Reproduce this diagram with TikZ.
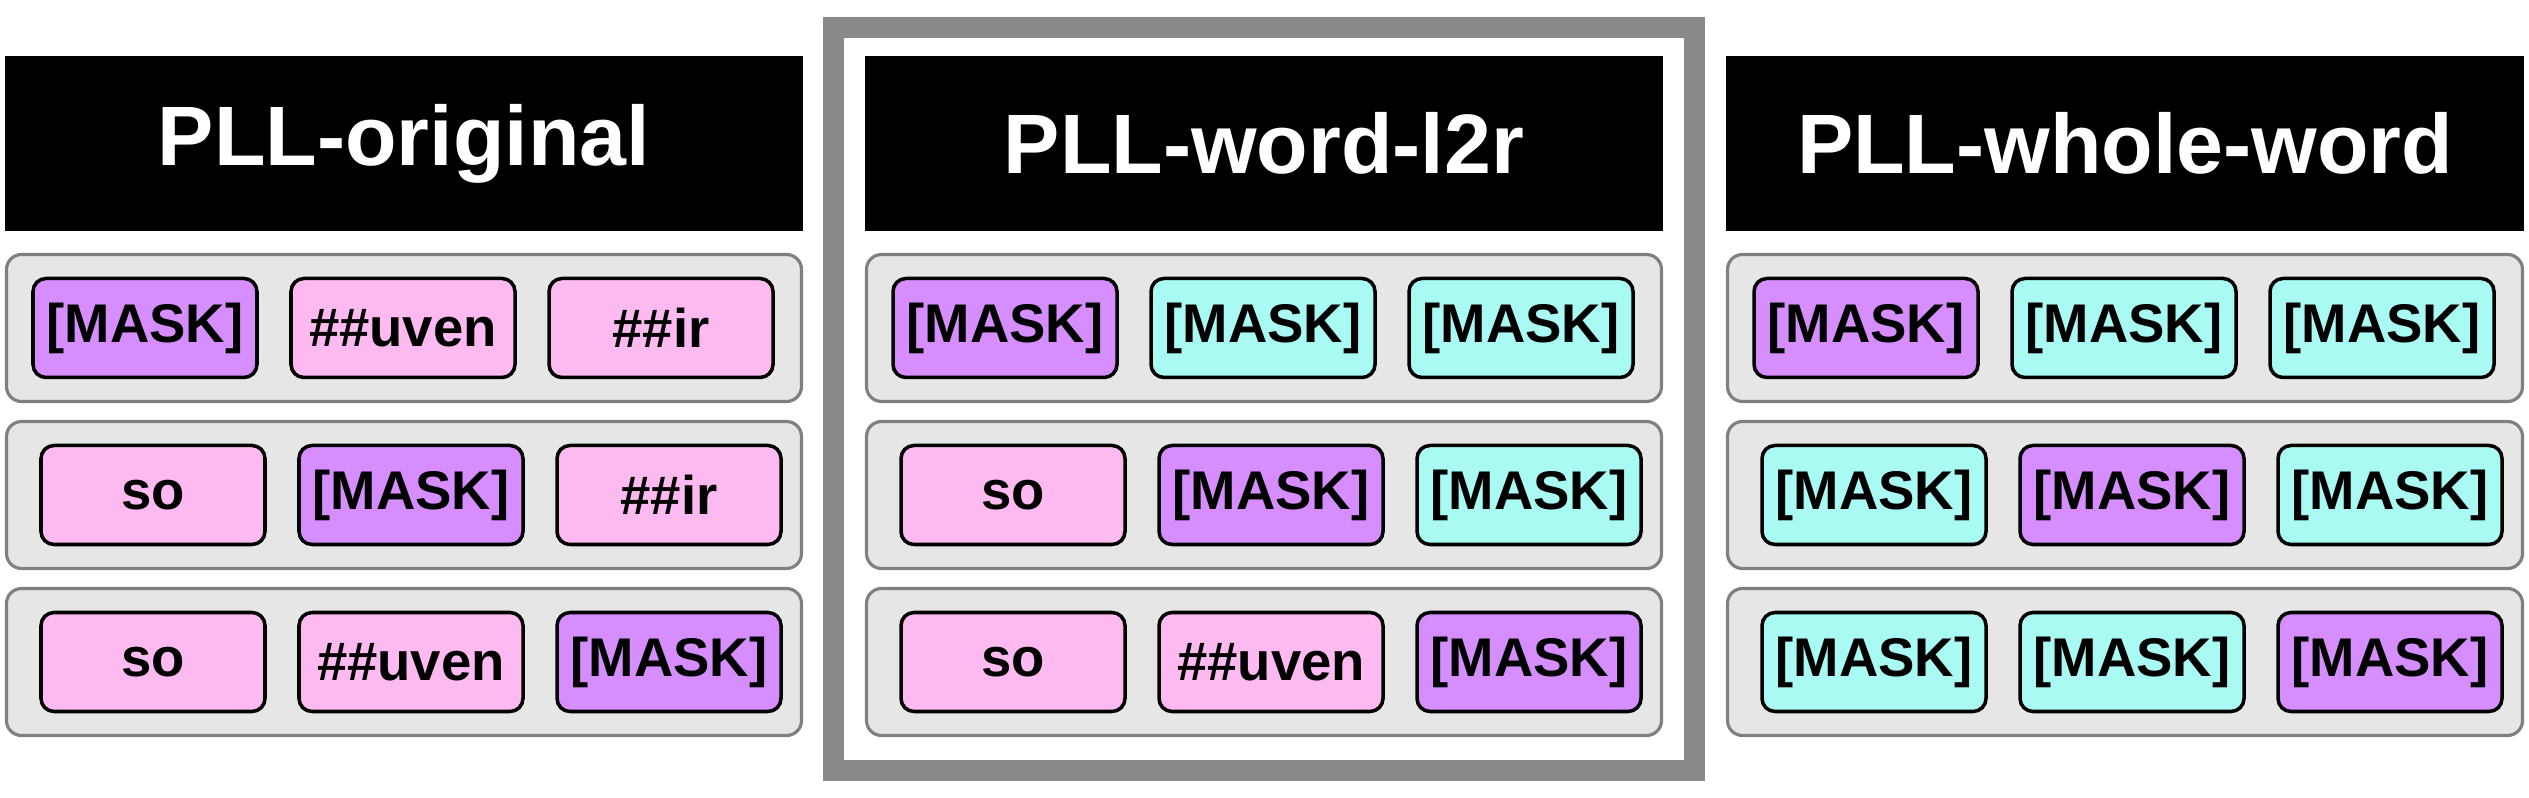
\documentclass[tikz,border=0pt]{standalone}
\usepackage{fontspec}
\setmainfont{Liberation Sans}
\usetikzlibrary{calc}
\definecolor{cur}{RGB}{214,142,254}
\definecolor{sub}{RGB}{253,186,241}
\definecolor{oth}{RGB}{168,250,243}
\definecolor{rowgray}{RGB}{230,230,230}
\definecolor{rowline}{RGB}{128,128,128}
\definecolor{framegray}{RGB}{137,137,137}
\newcommand{\msk}{[MASK]}
\tikzset{
  header/.style={fill=black, text=white, minimum width=7.98cm, minimum height=1.75cm, inner sep=0pt,
    font=\bfseries\fontsize{24}{28}\selectfont},
  rowbox/.style={draw=rowline, fill=rowgray, line width=0.9pt, rounded corners=0.15cm,
    minimum width=7.95cm, minimum height=1.47cm, inner sep=0pt},
  tok/.style={draw=black, line width=1pt, rounded corners=0.13cm, minimum width=2.24cm,
    minimum height=0.99cm, inner sep=0pt, font=\bfseries\fontsize{15.5}{18}\selectfont},
  selframe/.style={draw=framegray, line width=0.21cm, minimum width=8.61cm, minimum height=7.43cm, inner sep=0pt}
}
\begin{document}
\begin{tikzpicture}
\useasboundingbox (0,0) rectangle (25.29,-7.98);
\node[selframe] (sel) at (12.64,-3.99) {};
\foreach \p/\cx/\title in {1/4.04/PLL-original, 2/12.64/PLL-word-l2r, 3/21.25/PLL-whole-word} {
  \node[header] (head\p) at (\cx,-1.435) {\title};
  \foreach \r/\cy in {1/-3.28, 2/-4.95, 3/-6.62}
    \node[rowbox] (row\p\r) at (\cx,\cy) {};
}
\foreach \p/\r/\dx/\toks in {
  1/1/-2.59/{cur/\msk, sub/\#\#uven, sub/\#\#ir},
  1/2/-2.51/{sub/so, cur/\msk, sub/\#\#ir},
  1/3/-2.51/{sub/so, sub/\#\#uven, cur/\msk},
  2/1/-2.59/{cur/\msk, oth/\msk, oth/\msk},
  2/2/-2.51/{sub/so, cur/\msk, oth/\msk},
  2/3/-2.51/{sub/so, sub/\#\#uven, cur/\msk},
  3/1/-2.59/{cur/\msk, oth/\msk, oth/\msk},
  3/2/-2.51/{oth/\msk, cur/\msk, oth/\msk},
  3/3/-2.51/{oth/\msk, oth/\msk, cur/\msk}}
  \foreach \s/\t [count=\k] in \toks
    \node[tok, fill=\s] (t\p\r\k) at ($(row\p\r)+({\dx+(\k-1)*2.58},0)$) {\t};
\end{tikzpicture}
\end{document}
